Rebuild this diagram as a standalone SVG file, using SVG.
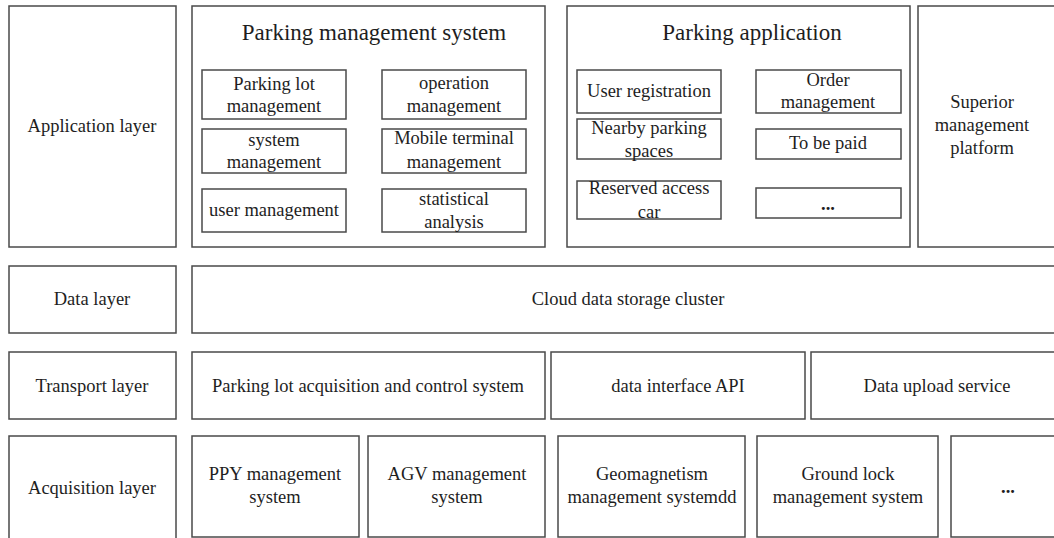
<svg xmlns="http://www.w3.org/2000/svg" width="1054" height="538" viewBox="0 0 1054 538">
<style>
.b{fill:#fff;stroke:#4a4a4a;stroke-width:1.5}
.t{font-family:"Liberation Serif","Times New Roman",serif;font-size:18.5px;fill:#1e1e1e;text-anchor:middle}
.h{font-size:23px}
.d{font-weight:bold}
</style>
<rect width="1054" height="538" fill="#fff"/>
<g id="application-layer">
<rect class="b" x="9" y="6" width="167" height="241"/>
<text class="t" x="92" y="132">Application layer</text>
</g>
<g id="parking-management-system">
<rect class="b" x="192" y="6" width="353" height="241"/>
<text class="t h" x="374" y="40">Parking management system</text>
<g id="parking-lot-management"><rect class="b" x="202" y="70" width="144" height="49"/><text class="t" x="274" y="90">Parking lot</text><text class="t" x="274" y="112">management</text></g>
<g id="system-management"><rect class="b" x="202" y="129" width="144" height="44"/><text class="t" x="274" y="146">system</text><text class="t" x="274" y="168">management</text></g>
<g id="user-management"><rect class="b" x="202" y="189" width="144" height="43"/><text class="t" x="274" y="216">user management</text></g>
<g id="operation-management"><rect class="b" x="382" y="70" width="144" height="49"/><text class="t" x="454" y="89">operation</text><text class="t" x="454" y="112">management</text></g>
<g id="mobile-terminal-management"><rect class="b" x="382" y="129" width="144" height="44"/><text class="t" x="454" y="144">Mobile terminal</text><text class="t" x="454" y="168">management</text></g>
<g id="statistical-analysis"><rect class="b" x="382" y="189" width="144" height="43"/><text class="t" x="454" y="205">statistical</text><text class="t" x="454" y="228">analysis</text></g>
</g>
<g id="parking-application">
<rect class="b" x="567" y="6" width="343" height="241"/>
<text class="t h" x="752" y="40">Parking application</text>
<g id="user-registration"><rect class="b" x="577" y="70" width="144" height="43"/><text class="t" x="649" y="97">User registration</text></g>
<g id="nearby-parking-spaces"><rect class="b" x="577" y="119" width="144" height="40"/><text class="t" x="649" y="134">Nearby parking</text><text class="t" x="649" y="157">spaces</text></g>
<g id="reserved-access-car"><rect class="b" x="577" y="181" width="144" height="38"/><text class="t" x="649" y="194">Reserved access</text><text class="t" x="649" y="218">car</text></g>
<g id="order-management"><rect class="b" x="756" y="70" width="145" height="43"/><text class="t" x="828" y="86">Order</text><text class="t" x="828" y="108">management</text></g>
<g id="to-be-paid"><rect class="b" x="756" y="129" width="145" height="30"/><text class="t" x="828" y="149">To be paid</text></g>
<g id="more-app"><rect class="b" x="756" y="188" width="145" height="30"/><text class="t d" x="828" y="210">...</text></g>
</g>
<g id="superior-management-platform">
<rect class="b" x="918" y="6" width="146" height="241"/>
<text class="t" x="982" y="108">Superior</text>
<text class="t" x="982" y="131">management</text>
<text class="t" x="982" y="154">platform</text>
</g>
<g id="data-layer">
<rect class="b" x="9" y="266" width="167" height="67"/>
<text class="t" x="92" y="305">Data layer</text>
</g>
<g id="cloud-data-storage-cluster">
<rect class="b" x="192" y="266" width="872" height="67"/>
<text class="t" x="628" y="305">Cloud data storage cluster</text>
</g>
<g id="transport-layer">
<rect class="b" x="9" y="352" width="167" height="67"/>
<text class="t" x="92" y="392">Transport layer</text>
</g>
<g id="parking-lot-acquisition">
<rect class="b" x="192" y="352" width="353" height="67"/>
<text class="t" x="368" y="392">Parking lot acquisition and control system</text>
</g>
<g id="data-interface-api">
<rect class="b" x="551" y="352" width="254" height="67"/>
<text class="t" x="678" y="392">data interface API</text>
</g>
<g id="data-upload-service">
<rect class="b" x="811" y="352" width="253" height="67"/>
<text class="t" x="937" y="392">Data upload service</text>
</g>
<g id="acquisition-layer">
<rect class="b" x="9" y="436" width="167" height="110"/>
<text class="t" x="92" y="494">Acquisition layer</text>
</g>
<g id="ppy-management-system">
<rect class="b" x="192" y="436" width="167" height="101"/>
<text class="t" x="275" y="480">PPY management</text>
<text class="t" x="275" y="503">system</text>
</g>
<g id="agv-management-system">
<rect class="b" x="368" y="436" width="177" height="101"/>
<text class="t" x="457" y="480">AGV management</text>
<text class="t" x="457" y="503">system</text>
</g>
<g id="geomagnetism-management-system">
<rect class="b" x="558" y="436" width="187" height="101"/>
<text class="t" x="652" y="480">Geomagnetism</text>
<text class="t" x="652" y="503">management systemdd</text>
</g>
<g id="ground-lock-management-system">
<rect class="b" x="757" y="436" width="181" height="101"/>
<text class="t" x="848" y="480">Ground lock</text>
<text class="t" x="848" y="503">management system</text>
</g>
<g id="more-acquisition">
<rect class="b" x="951" y="436" width="113" height="101"/>
<text class="t d" x="1008" y="493">...</text>
</g>
<g id="connectors"/>
</svg>
